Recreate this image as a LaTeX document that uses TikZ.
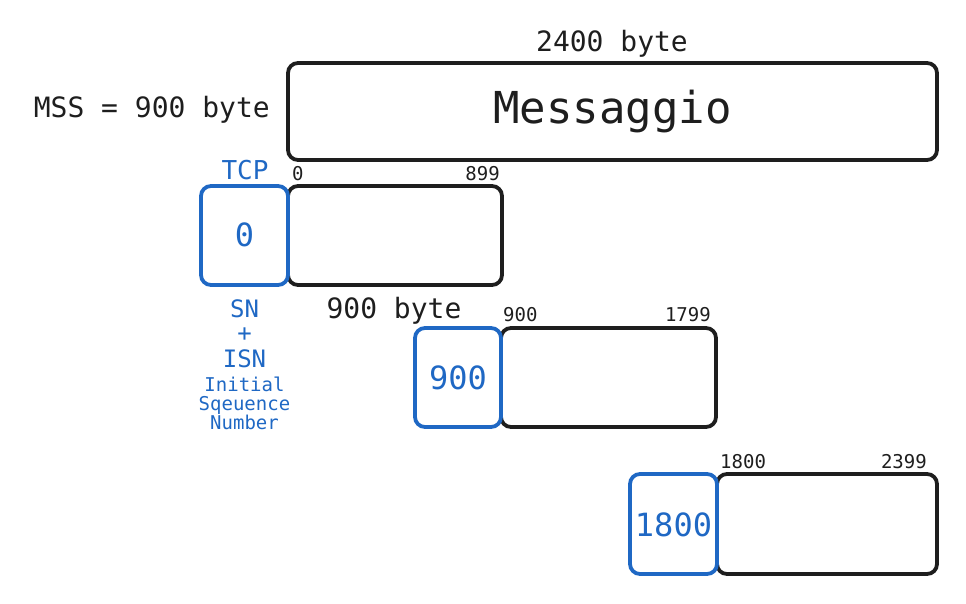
\documentclass[tikz,border=0pt]{standalone}
\usepackage{fontspec}
\setmonofont{DejaVu Sans Mono}
\usepackage{tikz}
\usetikzlibrary{
  % relative placement of the byte labels
  positioning
}
\definecolor{ink}{HTML}{1E1E1E}
\definecolor{tcpblue}{RGB}{31,104,196}
\newcommand{\fs}[1]{\ttfamily\fontsize{#1}{#1}\selectfont}
\tikzset{
  box/.style={draw=ink, line width=3.8pt, rounded corners=10pt, outer sep=0pt, inner sep=0pt},
  tcpbox/.style={box, draw=tcpblue, text=tcpblue, font=\fs{32}},
  txt/.style={text=ink, inner sep=0pt, font=\fs{28}},
  num/.style={text=ink, inner sep=0pt, font=\fs{19}},
  bluetxt/.style={text=tcpblue, inner sep=0pt},
}

\begin{document}
\begin{tikzpicture}[x=1pt, y=-1pt]
  \useasboundingbox (0,0) rectangle (966,604);
  % the whole message
  \node[box, minimum width=649pt, minimum height=97pt] (msg) at (612.5,111.5) {};
  \node[txt, anchor=base, font=\fs{44}] (msgtext) at (612.5,124) {Messaggio};
  \node[txt, anchor=base] (total) at (612,52) {2400 byte};
  \node[txt, anchor=base east] (mss) at (270,118) {MSS = 900 byte};

  % first segment
  \node[box, minimum width=214pt, minimum height=99pt] (segA) at (395,235.5) {};
  \node[tcpbox, minimum width=87pt, minimum height=99pt, left=0pt of segA] (tcpA) {};
  \node[bluetxt, anchor=base, font=\fs{32}] (snA) at (244.5,246) {0};
  \node[num, above right=5pt and 4pt of segA.north west] (loA) {0};
  \node[num, above left=5pt and 2pt of segA.north east] (hiA) {899};
  \node[txt, anchor=base] (lenA) at (394,318) {900 byte};
  \node[bluetxt, anchor=base, font=\fs{26}] (tcp) at (245,180) {TCP};

  % seq number legend
  \node[bluetxt, anchor=base, font=\fs{24}] (sn) at (244.5,317) {SN};
  \node[bluetxt, anchor=base, font=\fs{24}] (plus) at (244.5,341) {+};
  \node[bluetxt, anchor=base, font=\fs{24}] (isn) at (244.5,367) {ISN};
  \node[bluetxt, anchor=base, font=\fs{19}] (isnA) at (244.5,391) {Initial};
  \node[bluetxt, anchor=base, font=\fs{19}] (isnB) at (244.5,410) {Sqeuence};
  \node[bluetxt, anchor=base, font=\fs{19}] (isnC) at (244.5,429) {Number};

  % second segment
  \node[box, minimum width=215pt, minimum height=99pt] (segB) at (608.5,377.5) {};
  \node[tcpbox, minimum width=86pt, minimum height=99pt, left=0pt of segB] (tcpB) {};
  \node[bluetxt, anchor=base, font=\fs{32}] (snB) at (458,389) {900};
  \node[num, above right=6pt and 2pt of segB.north west] (loB) {900};
  \node[num, above left=6pt and 5pt of segB.north east] (hiB) {1799};

  % third segment
  \node[box, minimum width=220pt, minimum height=100pt] (segC) at (827,524) {};
  \node[tcpbox, minimum width=87pt, minimum height=100pt, left=0pt of segC] (tcpC) {};
  \node[bluetxt, anchor=base, font=\fs{32}] (snC) at (673.5,536) {1800};
  \node[num, above right=5pt and 3pt of segC.north west] (loC) {1800};
  \node[num, above left=5pt and 10pt of segC.north east] (hiC) {2399};
\end{tikzpicture}
\end{document}
